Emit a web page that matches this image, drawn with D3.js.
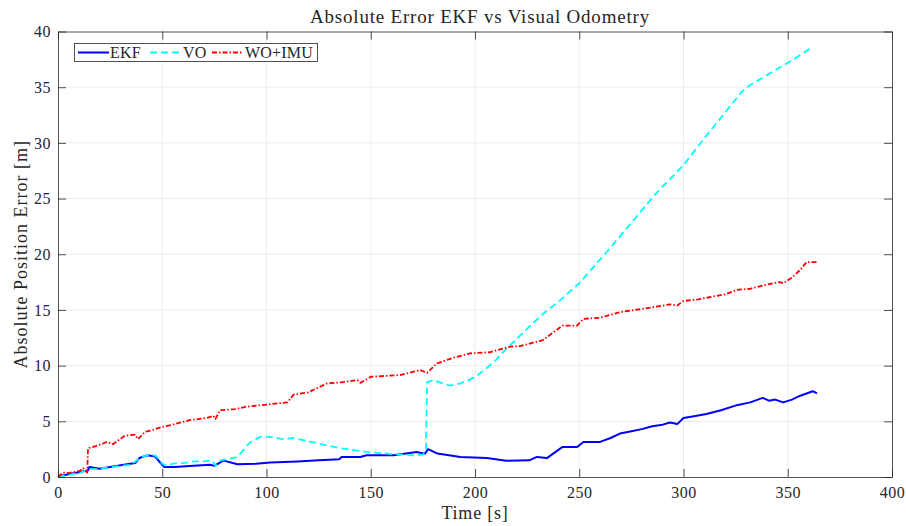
<!DOCTYPE html>
<html>
<head>
<meta charset="utf-8">
<script src="https://cdn.jsdelivr.net/npm/d3@7"></script>
<style>
  body { margin: 0; background: #fff; }
  text { font-family: "Liberation Serif", "DejaVu Serif", serif; fill: #262626; }
</style>
</head>
<body>
<svg id="chart"></svg>
<script>
// chart size
const width = 906,
    height = 526;
const margin = { top: 31.5, right: 14, bottom: 49, left: 58 };

// EKF series
const ekfTime = [0, 5, 10.5, 14.4, 15, 20, 25, 30, 37, 39, 43, 46.5, 49, 51, 56, 65, 73, 75, 79, 80, 86, 95, 101.7, 115, 125, 135, 136, 145, 148, 161, 172, 176, 177.5, 182, 193, 205.7, 215, 226, 229.7, 234.5, 242, 249, 252, 260, 265, 269.5, 275, 280, 285, 290, 293.5, 297, 300, 305, 311, 318, 325.6, 332, 338, 341, 344, 347.8, 352, 356, 362, 364];
const ekfErr = [0.05, 0.25, 0.45, 0.6, 0.9, 0.75, 0.9, 1.05, 1.25, 1.7, 1.95, 1.85, 1.3, 0.9, 0.9, 1.0, 1.1, 1.0, 1.45, 1.45, 1.15, 1.2, 1.3, 1.4, 1.5, 1.6, 1.8, 1.8, 1.95, 1.95, 2.25, 2.1, 2.5, 2.1, 1.8, 1.7, 1.45, 1.5, 1.8, 1.7, 2.7, 2.7, 3.15, 3.15, 3.5, 3.9, 4.1, 4.3, 4.55, 4.7, 4.9, 4.75, 5.3, 5.45, 5.65, 6.0, 6.45, 6.7, 7.1, 6.85, 6.95, 6.7, 6.95, 7.3, 7.7, 7.5];

// VO series
const voTime = [0, 5, 10, 15, 20, 30, 35, 40, 44, 47, 50, 52, 55, 60, 65, 70, 74, 75.5, 78, 81, 86, 92, 97, 101.7, 108, 113, 118, 124, 135, 148, 161, 170, 175, 176.5, 177, 180, 188, 193, 197, 201, 205.7, 210, 215, 220, 226, 233, 241, 250, 265, 287, 300, 309.5, 328, 332, 351, 362];
const voErr = [0, 0.2, 0.35, 0.7, 0.75, 1.0, 1.1, 1.8, 2.0, 1.9, 1.2, 1.0, 1.2, 1.25, 1.4, 1.4, 1.5, 1.0, 1.5, 1.6, 1.8, 3.1, 3.6, 3.6, 3.4, 3.5, 3.3, 3.05, 2.6, 2.25, 2.05, 1.95, 2.0, 2.4, 8.5, 8.7, 8.2, 8.4, 8.7, 9.1, 9.8, 10.5, 11.5, 12.4, 13.5, 14.7, 15.9, 17.4, 20.6, 25.5, 28.0, 30.3, 34.6, 35.2, 37.3, 38.6];

// WO+IMU series
const woTime = [0, 2.4, 5, 10.5, 12, 14, 14.4, 17, 20, 23.5, 26.4, 32, 37, 38.4, 41.7, 45, 50, 55, 63, 71.5, 74.5, 75.5, 77.7, 85, 90, 100, 110, 113, 120, 129, 136, 143.6, 145, 150, 164, 173.6, 177, 181.8, 189.5, 197.6, 207, 216.8, 221.6, 232.6, 242, 249, 252, 260, 269.5, 280.6, 293.5, 297, 300, 307, 314, 320, 325.6, 332, 338, 346, 347.8, 352, 356, 359, 364];
const woErr = [0, 0.4, 0.35, 0.55, 0.8, 0.4, 2.6, 2.7, 2.9, 3.15, 2.95, 3.7, 3.8, 3.4, 4.05, 4.2, 4.5, 4.7, 5.1, 5.3, 5.5, 5.2, 6.0, 6.1, 6.3, 6.5, 6.7, 7.4, 7.6, 8.4, 8.5, 8.7, 8.45, 9.0, 9.15, 9.6, 9.35, 10.2, 10.7, 11.1, 11.2, 11.7, 11.75, 12.3, 13.6, 13.6, 14.2, 14.3, 14.8, 15.1, 15.5, 15.4, 15.8, 15.95, 16.2, 16.4, 16.8, 16.9, 17.2, 17.5, 17.4, 17.9, 18.6, 19.3, 19.3];

const xTicks = [0, 50, 100, 150, 200, 250, 300, 350, 400];
const yTicks = [0, 5, 10, 15, 20, 25, 30, 35, 40];

const series = [
    { name: "EKF", t: ekfTime, v: ekfErr, color: "#0000ff", dash: null, width: 2 },
    { name: "VO", t: voTime, v: voErr, color: "#00ffff", dash: "7 4", width: 1.8 },
    { name: "WO+IMU", t: woTime, v: woErr, color: "#ff0000", dash: "5 2 1.5 2", width: 1.8 }
];

const svg = d3.select("#chart")
    .attr("width", width)
    .attr("height", height);

const x = d3.scaleLinear().domain([0, 400]).range([margin.left, width - margin.right]);
const y = d3.scaleLinear().domain([0, 40]).range([height - margin.bottom, margin.top]);

// grid
svg.append("g")
    .selectAll("line.vgrid")
    .data(xTicks.slice(1, -1))
    .enter()
    .append("line")
    .attr("x1", d => x(d)).attr("x2", d => x(d))
    .attr("y1", y(0)).attr("y2", y(40))
    .attr("stroke", "#ebebeb")
    .attr("stroke-width", 1);
svg.append("g")
    .selectAll("line.hgrid")
    .data(yTicks.slice(1, -1))
    .enter()
    .append("line")
    .attr("x1", x(0)).attr("x2", x(400))
    .attr("y1", d => y(d)).attr("y2", d => y(d))
    .attr("stroke", "#ebebeb")
    .attr("stroke-width", 1);

// series lines
const line = d3.line()
    .x(d => x(d[0]))
    .y(d => y(d[1]));

series.forEach(s => {
    svg.append("path")
        .datum(s.t.map((t, i) => [t, s.v[i]]))
        .attr("d", line)
        .attr("fill", "none")
        .attr("stroke", s.color)
        .attr("stroke-width", s.width)
        .attr("stroke-linejoin", "round")
        .attr("stroke-dasharray", s.dash);
});

// axes (ticks inside, box)
const tickLen = 8;
const xAxisB = d3.axisBottom(x).tickValues(xTicks).tickSizeInner(-tickLen).tickSizeOuter(0).tickPadding(10);
const xAxisT = d3.axisTop(x).tickValues(xTicks).tickSizeInner(-tickLen).tickSizeOuter(0).tickFormat("");
const yAxisL = d3.axisLeft(y).tickValues(yTicks).tickSizeInner(-tickLen).tickSizeOuter(0).tickPadding(7);
const yAxisR = d3.axisRight(y).tickValues(yTicks).tickSizeInner(-tickLen).tickSizeOuter(0).tickFormat("");

function styleAxis(g) {
    g.select(".domain").attr("stroke", "#262626").attr("stroke-width", 0.8);
    g.selectAll(".tick line").attr("stroke", "#262626").attr("stroke-width", 0.8);
    g.selectAll(".tick text")
        .attr("font-size", 16)
        .attr("letter-spacing", 0.5)
        .attr("font-family", "Liberation Serif, serif")
        .attr("fill", "#262626");
}

svg.append("g").attr("transform", `translate(0,${y(0)})`).call(xAxisB).call(styleAxis);
svg.append("g").attr("transform", `translate(0,${y(40)})`).call(xAxisT).call(styleAxis);
svg.append("g").attr("transform", `translate(${x(0)},0)`).call(yAxisL).call(styleAxis);
svg.append("g").attr("transform", `translate(${x(400)},0)`).call(yAxisR).call(styleAxis);

// title and labels
svg.append("text")
    .attr("x", 480)
    .attr("y", 23)
    .attr("text-anchor", "middle")
    .attr("font-size", 19)
    .attr("letter-spacing", 0.8)
    .text("Absolute Error EKF vs Visual Odometry");

svg.append("text")
    .attr("x", (x(0) + x(400)) / 2)
    .attr("y", 519)
    .attr("text-anchor", "middle")
    .attr("font-size", 18)
    .attr("letter-spacing", 0.8)
    .text("Time [s]");

svg.append("text")
    .attr("transform", `translate(27,${(y(0) + y(40)) / 2}) rotate(-90)`)
    .attr("text-anchor", "middle")
    .attr("font-size", 18)
    .attr("letter-spacing", 1)
    .text("Absolute Position Error [m]");

// legend
const legend = svg.append("g");
legend.append("rect")
    .attr("x", 74.5).attr("y", 43.5)
    .attr("width", 243).attr("height", 18)
    .attr("fill", "#fff")
    .attr("stroke", "#262626")
    .attr("stroke-width", 0.8);

const legendPos = [
    { x1: 78, x2: 109, tx: 110 },
    { x1: 150, x2: 181, tx: 183 },
    { x1: 212, x2: 243, tx: 245 }
];
series.forEach((s, i) => {
    const p = legendPos[i];
    legend.append("line")
        .attr("x1", p.x1).attr("x2", p.x2)
        .attr("y1", 52.5).attr("y2", 52.5)
        .attr("stroke", s.color)
        .attr("stroke-width", s.width)
        .attr("stroke-dasharray", s.dash);
    legend.append("text")
        .attr("x", p.tx).attr("y", 58)
        .attr("font-size", 16)
        .attr("letter-spacing", 0.2)
        .text(s.name);
});
</script>
</body>
</html>
